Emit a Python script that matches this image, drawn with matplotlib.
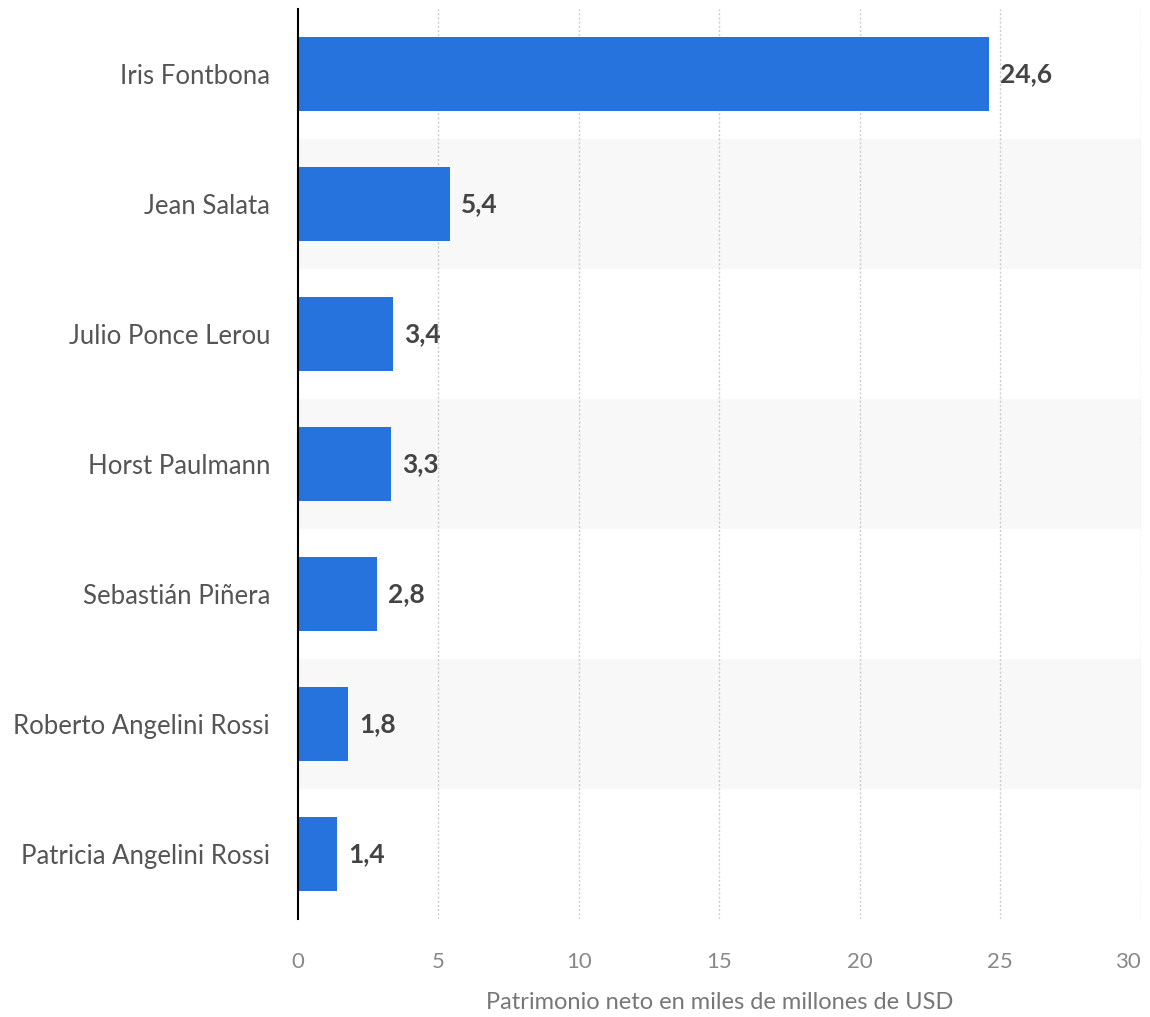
import matplotlib.pyplot as plt
import numpy as np

names = ["Iris Fontbona", "Jean Salata", "Julio Ponce Lerou", "Horst Paulmann",
         "Sebastián Piñera", "Roberto Angelini Rossi", "Patricia Angelini Rossi"]
values = [24.6, 5.4, 3.4, 3.3, 2.8, 1.8, 1.4]
x_ticks = [0, 5, 10, 15, 20, 25, 30]
x_label = "Patrimonio neto en miles de millones de USD"

plt.rcParams['font.family'] = ['Lato', 'DejaVu Sans']

fig = plt.figure(figsize=(11.5, 10.17), dpi=100)
ax = fig.add_axes([0.259, 0.0964, 0.733, 0.8948])

ys = np.arange(len(names))
# alternating light bands
for i in ys:
    if i % 2 == 1:
        ax.axhspan(i - 0.5, i + 0.5, color="#f8f8f8", zorder=0, lw=0)

for x in x_ticks[1:]:
    ax.axvline(x, color="#cccccc", linestyle=(0, (1.5, 1.5)), linewidth=1, zorder=1)

ax.barh(ys, values, height=0.57, color="#2673dd", zorder=2)
for y, v in zip(ys, values):
    ax.annotate(f"{v:.1f}".replace(".", ","), (v, y), xytext=(8, 0),
                textcoords="offset points", va="center", ha="left",
                fontsize=19, fontweight="bold", color="#444444")

ax.set_ylim(len(names) - 0.5, -0.5)
ax.set_xlim(0, 30)
ax.set_yticks(ys)
ax.set_yticklabels(names, fontsize=18.5, color="#555555")
ax.set_xticks(x_ticks)
ax.set_xticklabels([str(t) for t in x_ticks], fontsize=16, color="#888888")
ax.get_xticklabels()[-1].set_horizontalalignment("right")
ax.tick_params(axis="both", length=0)
ax.tick_params(axis="y", pad=20)
ax.tick_params(axis="x", pad=24)
ax.set_xlabel(x_label, fontsize=17, color="#777777", labelpad=14)

for s in ["top", "right", "bottom"]:
    ax.spines[s].set_visible(False)
ax.spines["left"].set_color("#000000")
ax.spines["left"].set_linewidth(1.5)
ax.spines["left"].set_zorder(3)

fig.savefig("out.png", dpi=100)
